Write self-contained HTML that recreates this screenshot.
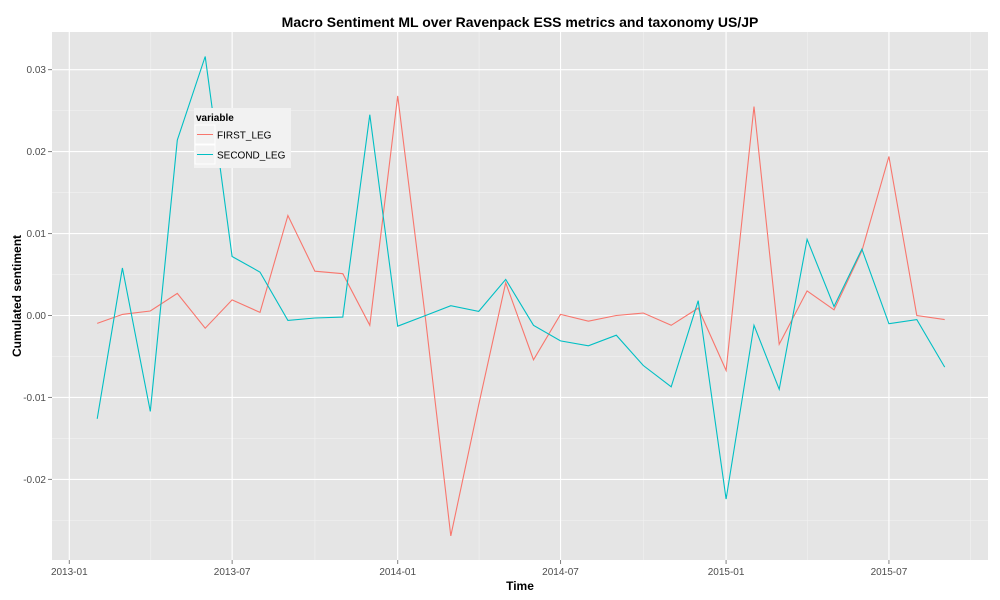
<!DOCTYPE html>
<html><head><meta charset="utf-8"><style>
body{margin:0;background:#fff;}
svg{display:block;font-family:"Liberation Sans",sans-serif;}
</style></head><body>
<svg id="chart" width="1000" height="600">
<rect x="52" y="32" width="936" height="528" fill="#e5e5e5"/>
<g id="grid"></g>
<g id="series"></g>
<g id="axes"></g>
<text x="520" y="27" text-anchor="middle" font-size="14" font-weight="bold" fill="#000">Macro Sentiment ML over Ravenpack ESS metrics and taxonomy US/JP</text>
<text x="520" y="590" text-anchor="middle" font-size="12" font-weight="bold">Time</text>
<text transform="translate(21,296) rotate(-90)" text-anchor="middle" font-size="12" font-weight="bold">Cumulated sentiment</text>
<g>
<rect x="194" y="108" width="97" height="60" fill="#f2f2f2"/>
<text x="196" y="121" font-size="10" font-weight="bold">variable</text>
<rect x="195" y="125" width="20" height="19" fill="#f2f2f2" stroke="#fff"/>
<line x1="197" y1="134.5" x2="213" y2="134.5" stroke="#F8766D"/>
<text x="217" y="138.5" font-size="10">FIRST_LEG</text>
<rect x="195" y="145" width="20" height="19" fill="#f2f2f2" stroke="#fff"/>
<line x1="197" y1="154.5" x2="213" y2="154.5" stroke="#00BFC4"/>
<text x="217" y="158.5" font-size="10">SECOND_LEG</text>
</g>
</svg>
<script>
const startYear = 2013, startMonth = 2;
const firstLeg = [-0.00096,0.00013,0.00055,0.0027,-0.00155,0.0019,0.00038,0.0122,0.0054,0.0051,-0.0012,0.0268,
 -0.0005,-0.0269,-0.0109,0.0040,-0.0054,0.00013,-0.0007,0.0000,0.0003,-0.0012,0.0009,
 -0.0067,0.0255,-0.0035,0.0030,0.0007,0.0079,0.0194,0.0000,-0.0005];
const secondLeg = [-0.0126,0.0058,-0.0117,0.0214,0.0316,0.0072,0.0053,-0.0006,-0.0003,-0.0002,0.0245,-0.0013,
 0.0000,0.0012,0.0005,0.0044,-0.0012,-0.0031,-0.0037,-0.0024,-0.0061,-0.0087,0.0018,
 -0.0224,-0.0012,-0.0090,0.0093,0.0011,0.0081,-0.0010,-0.0005,-0.0063];
const yTicks = [-0.02,-0.01,0,0.01,0.02,0.03];
const yTickLabels = ["-0.02","-0.01","0.00","0.01","0.02","0.03"];
const xTickLabels = ["2013-01","2013-07","2014-01","2014-07","2015-01","2015-07"];

const NS="http://www.w3.org/2000/svg";
const day0 = Date.UTC(2013,0,1);
function xDate(y,m){ return 69.3 + (Date.UTC(y,m-1,1)-day0)/86400000*0.8997; }
function yScale(v){ return 315.5 - v*8195; }
function mk(tag, attrs, parent){ const e=document.createElementNS(NS,tag); for(const k in attrs) e.setAttribute(k,attrs[k]); parent.appendChild(e); return e; }
const grid=document.getElementById('grid'), series=document.getElementById('series'), axes=document.getElementById('axes');
const L=52,R=988,T=32,B=560;

const tickX = xTickLabels.map(s=>{const p=s.split('-'); return xDate(+p[0],+p[1]);});
// minor x grid
for(let i=0;i<=tickX.length;i++){
  let x = i<tickX.length-1 ? (tickX[i]+tickX[i+1])/2 : (i==tickX.length-1 ? tickX[i]+(tickX[1]-tickX[0])/2 : null);
  if(x===null||x>R) continue;
  const l=mk('line',{x1:x,x2:x,y1:T,y2:B,stroke:'#f2f2f2','stroke-width':0.6},grid);
  
  
}
// minor y grid
for(let i=0;i<yTicks.length;i++){
  [yTicks[i]-0.005].concat(i==yTicks.length-1?[yTicks[i]+0.005]:[]).forEach(v=>{
    const y=yScale(v); if(y<T||y>B) return;
    const l=mk('line',{x1:L,x2:R,y1:y,y2:y,stroke:'#f2f2f2','stroke-width':0.6},grid);
    
    
  });
}
yTicks.forEach((v,i)=>{
  const y=yScale(v);
  const l=mk('line',{x1:L,x2:R,y1:y,y2:y,stroke:'#fff','stroke-width':1.1},grid);
  
  
  const t=mk('line',{x1:L-4,x2:L,y1:y,y2:y,stroke:'#7f7f7f'},axes);
  
  
  const tx=mk('text',{x:L-6,y:y+3.5,'text-anchor':'end','font-size':10,fill:'#4d4d4d'},axes);
  tx.textContent=yTickLabels[i];
  
  
});
tickX.forEach((x,i)=>{
  const l=mk('line',{x1:x,x2:x,y1:T,y2:B,stroke:'#fff','stroke-width':1.1},grid);
  
  
  const t=mk('line',{x1:x,x2:x,y1:B,y2:B+4,stroke:'#7f7f7f'},axes);
  
  
  const tx=mk('text',{x:x,y:B+15,'text-anchor':'middle','font-size':10,fill:'#4d4d4d'},axes);
  tx.textContent=xTickLabels[i];
  
  
});
function draw(vals,color,name){
  const pts=vals.map((v,i)=>{const m=startMonth-1+i; return xDate(startYear+Math.floor(m/12),(m%12)+1).toFixed(1)+','+yScale(v).toFixed(1);});
  const p=mk('polyline',{points:pts.join(' '),fill:'none',stroke:color,'stroke-width':1.1},series);
  
  
}
draw(firstLeg,'#F8766D','first-leg-line');
draw(secondLeg,'#00BFC4','second-leg-line');
</script>
</body></html>
